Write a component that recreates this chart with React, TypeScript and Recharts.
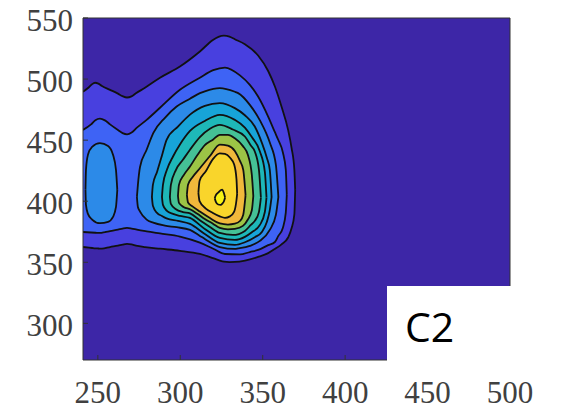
import { ComposedChart, Area, XAxis, YAxis, CartesianGrid } from 'recharts';

// each contour: [x, lower y, upper y], outer levels first
const level1 = [
  [241.0, 362.5, 489.6], [244.6, 362.0, 493.3], [246.5, 361.7, 495.8], [248.3, 361.4, 497.0],
  [250.3, 361.3, 496.3], [252.5, 361.2, 494.3], [257.4, 362.5, 491.2], [262.2, 363.6, 488.1],
  [265.0, 364.4, 486.0], [267.7, 365.0, 484.9], [270.4, 364.6, 485.8], [273.1, 363.7, 488.3],
  [278.6, 362.5, 492.9], [287.7, 361.1, 501.1], [299.8, 359.4, 510.3], [311.9, 356.8, 522.6],
  [319.8, 353.4, 532.0], [323.2, 351.8, 534.6], [326.5, 350.5, 535.5], [329.8, 350.2, 534.8],
  [333.1, 350.3, 532.6], [339.2, 351.4, 528.5], [347.2, 354.4, 519.3], [353.3, 357.5, 506.6],
  [357.4, 360.9, 493.9], [361.4, 364.7, 477.5], [365.4, 370.3, 458.4], [367.5, 377.8, 443.7],
  [369.2, 389.2, 425.7], [369.7, 409.3, 409.3],
];

const level2 = [
  [241.0, 374.8, 458.4], [245.9, 374.4, 462.9], [248.5, 374.2, 466.3], [251.3, 374.0, 467.6],
  [254.3, 374.7, 466.2], [257.4, 375.6, 462.9], [262.2, 376.8, 458.3], [265.0, 377.6, 455.8],
  [267.7, 378.1, 454.8], [270.5, 377.6, 456.2], [273.7, 376.7, 460.2], [279.6, 375.3, 466.6],
  [287.7, 373.6, 476.5], [299.8, 371.1, 491.2], [311.9, 366.1, 501.1], [320.0, 361.1, 507.3],
  [327.1, 356.8, 509.4], [336.2, 356.4, 503.0], [342.2, 358.4, 495.2], [347.2, 360.1, 485.7],
  [353.3, 364.0, 469.3], [357.4, 366.6, 456.5], [359.4, 371.4, 450.3], [362.2, 378.1, 440.1],
  [364.0, 390.7, 425.8], [364.6, 405.2, 405.2],
];

const level3Left = [
  [242.5, 409.3, 409.3], [242.8, 397.0, 425.7], [244.0, 389.6, 438.0], [246.5, 385.0, 444.5],
  [251.3, 382.0, 447.5], [256.2, 383.0, 445.3], [259.2, 387.1, 438.0], [261.0, 395.3, 425.7],
  [261.8, 409.3, 409.3],
];

const level3 = [
  [273.7, 403.5, 403.5], [274.3, 395.3, 413.4], [275.6, 391.5, 428.1], [279.6, 384.9, 442.1],
  [283.6, 382.4, 455.7], [290.7, 380.0, 468.3], [297.8, 378.7, 477.5], [305.9, 376.5, 483.9],
  [311.9, 371.6, 488.5], [314.9, 369.1, 490.0], [324.0, 362.5, 492.6], [333.1, 360.9, 489.6],
  [335.1, 361.3, 488.5], [342.2, 363.4, 478.9], [348.3, 367.5, 466.2], [354.3, 376.5, 448.0],
  [358.0, 388.8, 429.8], [359.5, 403.5, 403.5],
];

const level4 = [
  [282.8, 403.5, 403.5], [283.4, 396.2, 413.4], [285.9, 390.4, 424.0], [288.9, 387.9, 437.5],
  [291.7, 385.9, 450.3], [298.6, 383.9, 461.1], [305.9, 381.4, 470.9], [314.9, 373.2, 478.1],
  [324.0, 365.8, 480.3], [333.1, 364.2, 476.2], [339.2, 366.4, 470.4], [345.2, 370.5, 461.2],
  [349.5, 374.8, 447.8], [352.5, 383.0, 435.5], [354.3, 392.7, 425.7], [355.4, 403.5, 403.5],
];

const level5 = [
  [288.9, 403.5, 403.5], [289.5, 397.0, 413.4], [291.9, 392.1, 425.7], [295.6, 389.6, 436.6],
  [299.8, 388.0, 446.4], [305.9, 386.3, 457.5], [314.9, 377.3, 465.7], [324.0, 369.9, 470.7],
  [333.1, 368.3, 466.6], [339.2, 370.8, 460.3], [343.4, 374.6, 452.5], [348.3, 380.6, 440.7],
  [351.3, 391.2, 424.0], [352.3, 403.0, 403.0],
];

const level6 = [
  [293.7, 403.5, 403.5], [294.3, 397.8, 413.4], [297.4, 393.4, 425.7], [301.6, 391.1, 433.9],
  [305.9, 390.0, 442.2], [311.9, 384.5, 452.5], [318.0, 378.9, 459.3], [324.0, 374.0, 462.5],
  [331.9, 372.4, 458.7], [339.2, 375.7, 453.0], [342.8, 380.6, 445.6], [345.2, 383.9, 440.7],
  [347.7, 391.1, 425.9], [348.9, 403.0, 403.0],
];

const level7 = [
  [298.6, 404.3, 404.3], [299.2, 398.6, 413.4], [302.2, 395.1, 421.6], [305.9, 393.4, 428.4],
  [310.1, 390.0, 437.2], [314.9, 385.5, 445.9], [319.8, 381.6, 450.4], [324.0, 378.1, 454.3],
  [328.9, 377.0, 454.3], [333.1, 377.4, 451.5], [338.0, 379.8, 445.1], [341.0, 385.0, 438.0],
  [343.4, 392.6, 421.6], [344.3, 404.3, 404.3],
];

const level8 = [
  [304.0, 405.2, 405.2], [304.7, 399.0, 413.4], [307.4, 395.8, 419.6], [311.9, 391.5, 427.0],
  [318.0, 386.2, 437.0], [324.0, 381.8, 446.4], [328.9, 380.9, 445.6], [333.1, 381.6, 441.2],
  [336.2, 383.8, 433.0], [338.2, 389.0, 425.7], [339.6, 405.0, 405.0],
];

const level9 = [
  [311.0, 406.8, 406.8], [311.7, 400.0, 416.5], [315.5, 394.0, 424.5], [319.8, 390.4, 434.5],
  [324.0, 387.6, 439.2], [327.1, 386.4, 438.8], [330.1, 387.6, 435.8], [332.7, 391.5, 430.0],
  [334.1, 401.0, 418.0], [334.5, 406.0, 406.0],
];

const level10 = [
  [320.9, 402.5, 402.5], [321.6, 399.5, 405.0], [323.0, 397.3, 407.0], [324.5, 397.0, 409.0],
  [325.5, 398.0, 409.5], [326.5, 400.0, 406.5], [327.2, 403.0, 403.0],
];

const contourLevels = [level1, level2, level3Left, level3, level4, level5, level6, level7, level8, level9, level10];
const levelColors = [
  '#4840df', '#3e63f5', '#2c8ae8', '#2c8ae8', '#17a4d8', '#1eb8b8',
  '#45c196', '#9cc446', '#f1b83b', '#f9d52b', '#f6f315',
];

const xTicks = [250, 300, 350, 400, 450, 500];
const yTicks = [300, 350, 400, 450, 500, 550];

const labelStyle = { fontFamily: "'Liberation Serif', 'DejaVu Serif', serif", fontSize: 31 };

function XTick({ x, y, payload }: any) {
  return (
    <text x={x} y={y} dy={22} textAnchor="middle" fill="#404040" style={labelStyle}>
      {payload.value}
    </text>
  );
}

function YTick({ x, y, payload }: any) {
  return (
    <text x={x} y={y} dy={13} textAnchor="end" fill="#404040" style={labelStyle}>
      {payload.value}
    </text>
  );
}

export default function App() {
  const series = contourLevels.map(pts => pts.map(([x, lo, hi]) => ({ x, band: [lo, hi] })));

  return (
    <div style={{ position: 'absolute', left: 0, top: 0, width: 561, height: 409, background: '#fff' }}>
      <ComposedChart width={561} height={409} margin={{ top: 0, right: 0, bottom: 0, left: 0 }}>
        <CartesianGrid fill="#3d26a7" stroke="none" horizontal={false} vertical={false} />
        {series.map((data, i) => (
          <Area
            key={i}
            data={data}
            dataKey="band"
            type="monotone"
            fill={levelColors[i]}
            fillOpacity={1}
            stroke="#111"
            strokeWidth={1.8}
            strokeLinejoin="round"
            dot={false}
            activeDot={false}
            isAnimationActive={false}
          />
        ))}
        <XAxis
          type="number" dataKey="x" domain={[241, 500]} allowDataOverflow ticks={xTicks} interval={0}
          height={49} tickSize={-5} tickMargin={26}
          axisLine={{ stroke: '#333' }} tickLine={{ stroke: '#333' }} tick={XTick}
        />
        <XAxis
          xAxisId="top" orientation="top" type="number" domain={[241, 500]} allowDataOverflow
          ticks={xTicks} interval={0} height={18} tickSize={-5} tick={false}
          axisLine={{ stroke: '#333' }} tickLine={{ stroke: '#333' }}
        />
        <YAxis
          type="number" domain={[270, 550]} allowDataOverflow ticks={yTicks} interval={0}
          width={83} tickSize={-5} tickMargin={15}
          axisLine={{ stroke: '#333' }} tickLine={{ stroke: '#333' }} tick={YTick}
        />
        <YAxis
          yAxisId="right" orientation="right" type="number" domain={[270, 550]} allowDataOverflow
          ticks={yTicks} interval={0} width={51} tickSize={-5} tick={false}
          axisLine={{ stroke: '#333' }} tickLine={{ stroke: '#333' }}
        />
      </ComposedChart>
      <svg width={561} height={409} style={{ position: 'absolute', left: 0, top: 0, pointerEvents: 'none' }}>
        <rect x={387} y={286} width={174} height={77} fill="#fff" />
        <text x={405} y={342} fontSize={41} fontFamily="'Open Sans', sans-serif" fill="#000">C2</text>
      </svg>
    </div>
  );
}
